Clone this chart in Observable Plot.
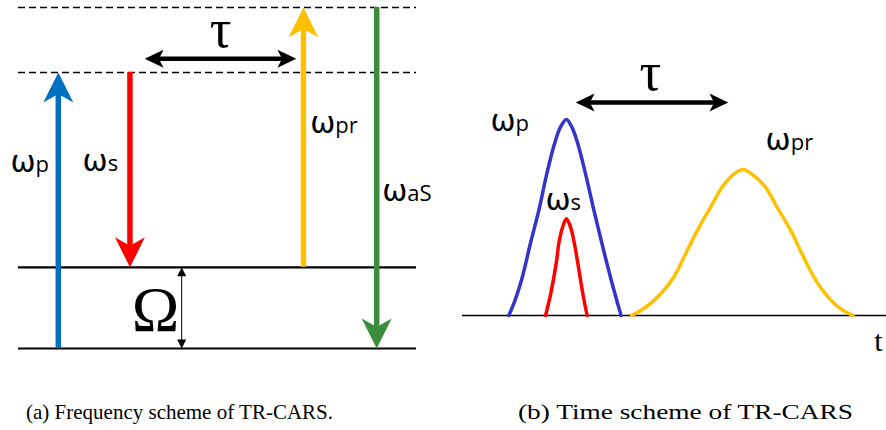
<!DOCTYPE html>
<html>
<head>
<meta charset="utf-8">
<script src="https://cdn.jsdelivr.net/npm/d3@7"></script>
<script src="https://cdn.jsdelivr.net/npm/@observablehq/plot@0.6"></script>
<style>
  body { margin: 0; background: #fff; width: 886px; height: 430px; overflow: hidden; }
  #panels { display: flex; }
  #captions { position: relative; height: 45px; font-family: "Liberation Serif", "Times New Roman", serif; font-size: 22px; color: #000; }
  #captions span { position: absolute; top: 16px; line-height: 22px; white-space: nowrap; transform-origin: 0 50%; }
</style>
</head>
<body>
<div id="panels"></div>
<div id="captions"></div>
<script>
// ---------- (a) Frequency scheme: energy levels and transitions ----------
const realLevels = [0, 1];          // ground and vibrational level (Ω = 1)
const virtualLevels = [3.4, 4.2];   // virtual levels
const levelSpan = [0, 100];         // extent of the level lines across the diagram

const beamNames = ["ωp", "ωs", "ωpr", "ωaS"];
const beamPos   = [10, 28, 71.6, 90];
const beamFrom  = [0, 3.4, 1, 4.2];
const beamTo    = [3.4, 1, 4.2, 0];

// label anchor: ω ends at x, suffix starts at x, baseline at y
const beamSuffix = ["p", "s", "pr", "aS"];
const beamLabelX = [4.3, 22.4, 79.6, 97.7];
const beamLabelY = [2.17, 2.19, 2.65, 1.82];

const freqDelay = {from: 31.7, to: 69.8, level: 3.57, labelX: 50.8, labelY: 3.71};
const omegaGap  = {x: 41, from: 0, to: 1, labelX: 34.4, labelY: 0.22};

// ---------- (b) Time scheme: pulse envelopes ----------
const pumpT = [1.09, 1.21, 1.41, 1.60, 1.80, 1.97, 2.17, 2.31, 2.45, 2.58, 2.72, 2.92, 3.10, 3.29, 3.49, 3.66, 3.74];
const pumpI = [0, 0.06, 0.195, 0.366, 0.536, 0.706, 0.876, 0.961, 1.0, 0.961, 0.876, 0.706, 0.536, 0.366, 0.195, 0.06, 0];

const stokesT = [1.96, 2.08, 2.22, 2.27, 2.36, 2.45, 2.55, 2.64, 2.71, 2.84, 2.94];
const stokesI = [0, 0.11, 0.28, 0.366, 0.45, 0.493, 0.45, 0.366, 0.28, 0.11, 0];

const probeT = [3.99, 4.32, 4.67, 4.98, 5.26, 5.54, 5.85, 6.12, 6.36, 6.61, 6.87, 7.15, 7.42, 7.74, 8.01, 8.29, 8.56, 8.87, 9.21];
const probeI = [0, 0.042, 0.11, 0.195, 0.314, 0.434, 0.552, 0.654, 0.714, 0.745, 0.714, 0.654, 0.552, 0.434, 0.314, 0.195, 0.11, 0.042, 0];

const pulseLabels = ["ωp", "ωs", "ωpr"];
const pulseSuffix = ["p", "s", "pr"];
const pulseLabelX = [1.25, 2.55, 7.74];
const pulseLabelY = [0.939, 0.536, 0.842];

const timeDelay = {from: 2.67, to: 6.27, level: 1.087, labelX: 4.43, labelY: 1.148};
const timeAxis = {from: 0, to: 10, label: "t", labelX: 9.81, labelY: -0.179};

const captionA = "(a) Frequency scheme of TR-CARS.";
const captionB = "(b) Time scheme of TR-CARS";

// ---------- styling ----------
const beamColor = {"ωp": "#0070C0", "ωs": "#FF0000", "ωpr": "#FFC000", "ωaS": "#3A8D3C"};
const pulseColor = {pump: "#3434C8", stokes: "#FF0000", probe: "#FFC000"};
const omegaFont = "'DejaVu Sans', 'Open Sans', sans-serif";
const labelFont = "'Open Sans', 'Noto Sans', sans-serif";
const serifFont = "'Liberation Serif', 'Times New Roman', serif";

// Notched arrowhead: tip at the anchor, body extending along +y (rotate to aim)
function head(lengthRatio, notch) {
  return {
    draw(ctx, size) {
      const w = Math.sqrt(size / Math.PI), l = w * lengthRatio;
      ctx.moveTo(0, 0);
      ctx.lineTo(w, l);
      ctx.lineTo(0, l * notch);
      ctx.lineTo(-w, l);
      ctx.closePath();
    }
  };
}
const bigHead = head(2, 0.72);
const smallHead = head(2.1, 0.75);
const triHead = head(2, 1);

const beams = beamNames.map((name, i) => ({
  name, x: beamPos[i], from: beamFrom[i], to: beamTo[i], up: beamTo[i] > beamFrom[i],
  top: Math.max(beamFrom[i], beamTo[i]), bottom: Math.min(beamFrom[i], beamTo[i]),
  suffix: beamSuffix[i], lx: beamLabelX[i], ly: beamLabelY[i]
}));
const upBeams = beams.filter(d => d.up);
const downBeams = beams.filter(d => !d.up);

const freqPlot = Plot.plot({
  width: 460, height: 385,
  marginTop: 7, marginBottom: 37, marginLeft: 18, marginRight: 44,
  x: {domain: [0, 100], axis: null},
  y: {domain: [0, 4.2], axis: null},
  style: {background: "white", overflow: "visible"},
  marks: [
    Plot.ruleY(realLevels, {y: d => d, x1: levelSpan[0], x2: levelSpan[1], stroke: "black", strokeWidth: 2.2}),
    Plot.ruleY(virtualLevels, {y: d => d, x1: levelSpan[0], x2: levelSpan[1], stroke: "black", strokeWidth: 1.5, strokeDasharray: "7,4"}),
    // transition shafts, stopping inside the arrowhead
    Plot.ruleX(upBeams, {x: "x", y1: "top", y2: "bottom", stroke: d => beamColor[d.name], strokeWidth: 5.5, insetTop: 12}),
    Plot.ruleX(downBeams, {x: "x", y1: "top", y2: "bottom", stroke: d => beamColor[d.name], strokeWidth: 5.5, insetBottom: 12}),
    // transition heads
    Plot.dot(beams, {x: "x", y: "to", symbol: bigHead, r: 15, rotate: d => d.up ? 0 : 180, fill: d => beamColor[d.name], stroke: "none"}),
    // labels
    Plot.text(beams, {x: "lx", y: "ly", text: () => "ω", textAnchor: "end", lineAnchor: "bottom", fontSize: 30, fontFamily: omegaFont, fill: "black"}),
    Plot.text(beams, {x: "lx", y: "ly", text: "suffix", textAnchor: "start", lineAnchor: "bottom", fontSize: 22, fontFamily: labelFont, fill: "black"}),
    // delay τ
    Plot.ruleY([freqDelay], {y: "level", x1: "from", x2: "to", stroke: "black", strokeWidth: 4.5, insetLeft: 8, insetRight: 8}),
    Plot.dot([freqDelay], {x: "from", y: "level", symbol: smallHead, r: 9, rotate: -90, fill: "black", stroke: "none"}),
    Plot.dot([freqDelay], {x: "to", y: "level", symbol: smallHead, r: 9, rotate: 90, fill: "black", stroke: "none"}),
    Plot.text([freqDelay], {x: "labelX", y: "labelY", text: () => "τ", lineAnchor: "bottom", fontSize: 54, fontFamily: serifFont, fill: "black"}),
    // vibrational spacing Ω
    Plot.ruleX([omegaGap], {x: "x", y1: "to", y2: "from", stroke: "black", strokeWidth: 1, insetTop: 5, insetBottom: 5}),
    Plot.dot([omegaGap], {x: "x", y: "to", symbol: triHead, r: 4.5, rotate: 0, fill: "black", stroke: "none"}),
    Plot.dot([omegaGap], {x: "x", y: "from", symbol: triHead, r: 4.5, rotate: 180, fill: "black", stroke: "none"}),
    Plot.text([omegaGap], {x: "labelX", y: "labelY", text: () => "Ω", lineAnchor: "bottom", fontSize: 64, fontFamily: serifFont, fill: "black"})
  ]
});

const pulses = [
  ...pumpT.map((t, i) => ({pulse: "pump", t, I: pumpI[i]})),
  ...stokesT.map((t, i) => ({pulse: "stokes", t, I: stokesI[i]})),
  ...probeT.map((t, i) => ({pulse: "probe", t, I: probeI[i]}))
];
const pulseText = pulseLabels.map((name, i) => ({name, suffix: pulseSuffix[i], x: pulseLabelX[i], y: pulseLabelY[i]}));

const timePlot = Plot.plot({
  width: 426, height: 385,
  marginTop: 21, marginBottom: 70, marginLeft: 2, marginRight: 0,
  x: {domain: [0, 10], axis: null},
  y: {domain: [0, 1.5], axis: null},
  style: {background: "white", overflow: "visible"},
  marks: [
    Plot.ruleY([0], {x1: timeAxis.from, x2: timeAxis.to, stroke: "black", strokeWidth: 1.5}),
    Plot.line(pulses, {x: "t", y: "I", z: "pulse", stroke: d => pulseColor[d.pulse], strokeWidth: 3.5, curve: "catmull-rom"}),
    Plot.text(pulseText, {x: "x", y: "y", text: () => "ω", textAnchor: "end", lineAnchor: "bottom", fontSize: 30, fontFamily: omegaFont, fill: "black"}),
    Plot.text(pulseText, {x: "x", y: "y", text: "suffix", textAnchor: "start", lineAnchor: "bottom", fontSize: 22, fontFamily: labelFont, fill: "black"}),
    // delay τ
    Plot.ruleY([timeDelay], {y: "level", x1: "from", x2: "to", stroke: "black", strokeWidth: 4.5, insetLeft: 8, insetRight: 8}),
    Plot.dot([timeDelay], {x: "from", y: "level", symbol: smallHead, r: 9, rotate: -90, fill: "black", stroke: "none"}),
    Plot.dot([timeDelay], {x: "to", y: "level", symbol: smallHead, r: 9, rotate: 90, fill: "black", stroke: "none"}),
    Plot.text([timeDelay], {x: "labelX", y: "labelY", text: () => "τ", lineAnchor: "bottom", fontSize: 54, fontFamily: serifFont, fill: "black"}),
    Plot.text([timeAxis], {x: "labelX", y: "labelY", text: "label", lineAnchor: "bottom", fontSize: 30, fontFamily: serifFont, fill: "black"})
  ]
});

document.getElementById("panels").append(freqPlot, timePlot);

// captions, each set to the width of its sub-figure caption
const caps = document.getElementById("captions");
[[captionA, 26, 307], [captionB, 518, 335]].forEach(([text, left, width]) => {
  const s = document.createElement("span");
  s.textContent = text;
  s.style.left = left + "px";
  caps.append(s);
  const w = s.getBoundingClientRect().width;
  s.style.transform = `scaleX(${width / w})`;
});
</script>
</body>
</html>
